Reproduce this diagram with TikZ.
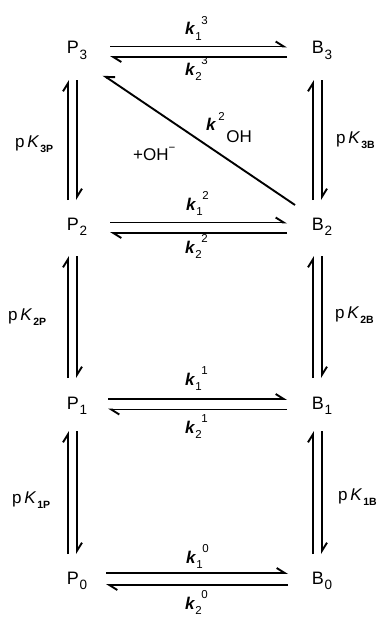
\documentclass[tikz,border=0pt]{standalone}
\usepackage{fontspec}
\setmainfont{Liberation Sans}
\usetikzlibrary{arrows.meta}
\newcommand\smallfnt{\fontsize{11.5}{11.5}\selectfont}
\newcommand\sbsp[2]{\rlap{\raisebox{-0.3em}{\smallfnt #1}}\hspace{0.35em}\raisebox{0.6em}{\smallfnt #2}}
\newcommand\kk[2]{\textbf{\textit{k}}\sbsp{#1}{#2}}
\newcommand\pKlab[1]{p\,\textit{K}\hspace{0.05em}\raisebox{-0.35em}{\fontsize{10.5}{10.5}\selectfont\bfseries #1}}
\newcommand\spc[2]{#1\hspace{0.05em}\raisebox{-0.3em}{\fontsize{13.5}{13.5}\selectfont #2}}
\begin{document}
\begin{tikzpicture}[x=1pt,y=-1pt]
\tikzset{
  species/.style={inner sep=0pt, anchor=base, font=\fontsize{18}{18}\selectfont},
  lbl/.style={inner sep=0pt, anchor=base west, font=\fontsize{17}{17}\selectfont},
  harp/.style={line width=1.9pt, -{Straight Barb[harpoon, length=8pt, width=10pt, line width=1.9pt]}},
  harpsw/.style={line width=1.9pt, -{Straight Barb[harpoon, swap, length=8pt, width=10pt, line width=1.9pt]}}
}
\fill[white] (0,0) rectangle (381,618);
\useasboundingbox (0,0) rectangle (381,618);

% species
\node[species] (P3) at (77,54) {\spc{P}{3}};
\node[species] (B3) at (322,54) {\spc{B}{3}};
\node[species] (P2) at (77,230) {\spc{P}{2}};
\node[species] (B2) at (322,230) {\spc{B}{2}};
\node[species] (P1) at (77,409) {\spc{P}{1}};
\node[species] (B1) at (322,409) {\spc{B}{1}};
\node[species] (P0) at (77,584) {\spc{P}{0}};
\node[species] (B0) at (322,584) {\spc{B}{0}};

% horizontal equilibria
\draw[harp] ([xshift=33pt,yshift=7.5pt]P3.base) -- ([xshift=-35pt,yshift=7.5pt]B3.base);
\draw[harp] ([xshift=-35pt,yshift=-3pt]B3.base) -- ([xshift=33pt,yshift=-3pt]P3.base);
\draw[harp] ([xshift=33pt,yshift=7.5pt]P2.base) -- ([xshift=-35pt,yshift=7.5pt]B2.base);
\draw[harp] ([xshift=-35pt,yshift=-3pt]B2.base) -- ([xshift=33pt,yshift=-3pt]P2.base);
\draw[harp] ([xshift=31pt,yshift=10pt]P1.base) -- ([xshift=-35pt,yshift=10pt]B1.base);
\draw[harp] ([xshift=-35pt,yshift=-0.5pt]B1.base) -- ([xshift=31pt,yshift=-0.5pt]P1.base);
\draw[harp] ([xshift=29pt,yshift=11pt]P0.base) -- ([xshift=-34pt,yshift=11pt]B0.base);
\draw[harp] ([xshift=-34pt,yshift=-1pt]B0.base) -- ([xshift=29pt,yshift=-1pt]P0.base);

% vertical equilibria, P column
\draw[harp] ([xshift=-9pt,yshift=30pt]P2.base) -- ([xshift=-9pt,yshift=-26pt]P3.base);
\draw[harp] ([yshift=-26pt]P3.base) -- ([yshift=30pt]P2.base);
\draw[harp] ([xshift=-9pt,yshift=31pt]P1.base) -- ([xshift=-9pt,yshift=-26pt]P2.base);
\draw[harp] ([yshift=-26pt]P2.base) -- ([yshift=31pt]P1.base);
\draw[harp] ([xshift=-9pt,yshift=30pt]P0.base) -- ([xshift=-9pt,yshift=-22pt]P1.base);
\draw[harp] ([yshift=-22pt]P1.base) -- ([yshift=30pt]P0.base);

% vertical equilibria, B column
\draw[harp] ([xshift=-9pt,yshift=30pt]B2.base) -- ([xshift=-9pt,yshift=-26pt]B3.base);
\draw[harp] ([yshift=-26pt]B3.base) -- ([yshift=30pt]B2.base);
\draw[harp] ([xshift=-9pt,yshift=31pt]B1.base) -- ([xshift=-9pt,yshift=-26pt]B2.base);
\draw[harp] ([yshift=-26pt]B2.base) -- ([yshift=31pt]B1.base);
\draw[harp] ([xshift=-9pt,yshift=30pt]B0.base) -- ([xshift=-9pt,yshift=-22pt]B1.base);
\draw[harp] ([yshift=-22pt]B1.base) -- ([yshift=30pt]B0.base);

% diagonal
\draw[harpsw] ([xshift=-27pt,yshift=25pt]B2.base) -- ([xshift=26pt,yshift=-21pt]P3.base);

% rate constant labels
\node[lbl] (k13) at (185,35) {\kk{1}{3}};
\node[lbl] (k23) at (185,75) {\kk{2}{3}};
\node[lbl] (k12) at (186,210) {\kk{1}{2}};
\node[lbl] (k22) at (185,253) {\kk{2}{2}};
\node[lbl] (k11) at (185,385) {\kk{1}{1}};
\node[lbl] (k21) at (185,433) {\kk{2}{1}};
\node[lbl] (k10) at (186,563) {\kk{1}{0}};
\node[lbl] (k20) at (185,609) {\kk{2}{0}};

% pK labels
\node[lbl] (pK3P) at (15,147) {\pKlab{3P}};
\node[lbl] (pK2P) at (8,320) {\pKlab{2P}};
\node[lbl] (pK1P) at (12,503) {\pKlab{1P}};
\node[lbl] (pK3B) at (336,143) {\pKlab{3B}};
\node[lbl] (pK2B) at (335,318) {\pKlab{2B}};
\node[lbl] (pK1B) at (338,500) {\pKlab{1B}};

% hydroxide path labels
\node[lbl] (kOH) at (206,130) {\textbf{\textit{k}}\hspace{0.12em}\raisebox{0.55em}{\smallfnt 2}\hspace{0.1em}\raisebox{-0.75em}{OH}};
\node[lbl] (OHm) at (133,160) {+OH\raisebox{0.5em}{\smallfnt −}};
\end{tikzpicture}
\end{document}
